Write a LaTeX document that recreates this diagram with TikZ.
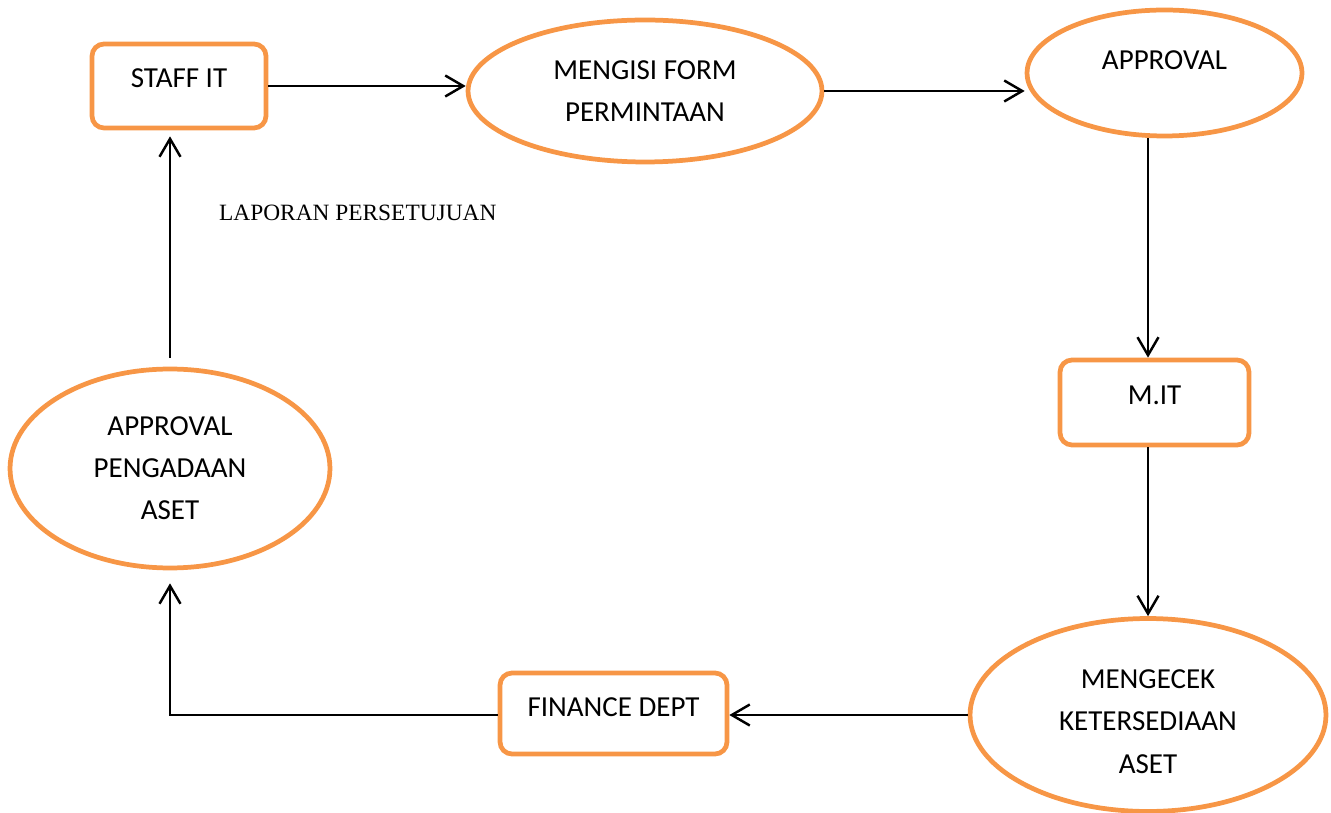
\documentclass[tikz,border=0pt]{standalone}
\usepackage{fontspec}
\setmainfont{Carlito}
\newfontfamily\labelfont{Liberation Serif}
\usepackage{tikz}
\usetikzlibrary{shapes.geometric,arrows.meta}
\definecolor{boxorange}{HTML}{F79646}
\tikzset{
  flowbox/.style={draw=boxorange, line width=2.7pt, rounded corners=0.24cm,
    font=\fontsize{16.5}{24}\selectfont, text height=0.4cm},
  flowellipse/.style={ellipse, draw=boxorange, line width=2.7pt, align=center,
    font=\fontsize{16.5}{24}\selectfont},
  flowarrow/.style={line width=1.4pt, -{Straight Barb[length=0.36cm,width=0.42cm,line width=1.4pt]}}
}
\begin{document}
\begin{tikzpicture}[x=0.02cm,y=-0.02cm]
\useasboundingbox (0,0) rectangle (1331,813);
\node[flowbox, minimum width=3.48cm, minimum height=1.68cm, text depth=0.34cm] (staff) at(179,86) {STAFF IT};
\node[flowellipse, minimum width=7.08cm, minimum height=2.84cm] (mengisi) at(645,91) {MENGISI FORM\\PERMINTAAN};
\node[flowellipse, minimum width=5.5cm, minimum height=2.52cm, text height=0.4cm, text depth=0.54cm] (approval) at(1164.5,73) {APPROVAL};
\node[flowbox, minimum width=3.78cm, minimum height=1.7cm, text depth=0.32cm] (mit) at(1154.5,402.5) {M.IT};
\node[flowellipse, minimum width=7.12cm, minimum height=3.86cm] (mengecek) at(1148,715) {\\[-0.2cm]MENGECEK\\KETERSEDIAAN\\ASET};
\node[flowbox, minimum width=4.54cm, minimum height=1.62cm, text depth=0.28cm] (finance) at(613.5,713.5) {FINANCE DEPT};
\node[flowellipse, minimum width=6.4cm, minimum height=3.98cm] (pengadaan) at(170,468.5) {APPROVAL\\PENGADAAN\\ASET};
\node[anchor=west, font=\labelfont\fontsize{13.3}{15}\selectfont] (laporan) at(213,213) {LAPORAN PERSETUJUAN};
% arrows
\draw[flowarrow] (staff.east) -- (staff.east -| mengisi.west);
\draw[flowarrow] (mengisi.east) -- (mengisi.east -| approval.west);
\draw[flowarrow] (approval.south -| mengecek.north) -- (mit.north -| mengecek.north);
\draw[flowarrow] (mit.south -| mengecek.north) -- (mengecek.north);
\draw[flowarrow] (mengecek.west) -- (mengecek.west -| finance.east);
\draw[flowarrow, shorten >=0.26cm] (mengecek.west -| finance.west) -| (pengadaan.south);
\draw[flowarrow, shorten <=0.18cm, shorten >=0.12cm] (pengadaan.north) -- (pengadaan.north |- staff.south);
\end{tikzpicture}
\end{document}
